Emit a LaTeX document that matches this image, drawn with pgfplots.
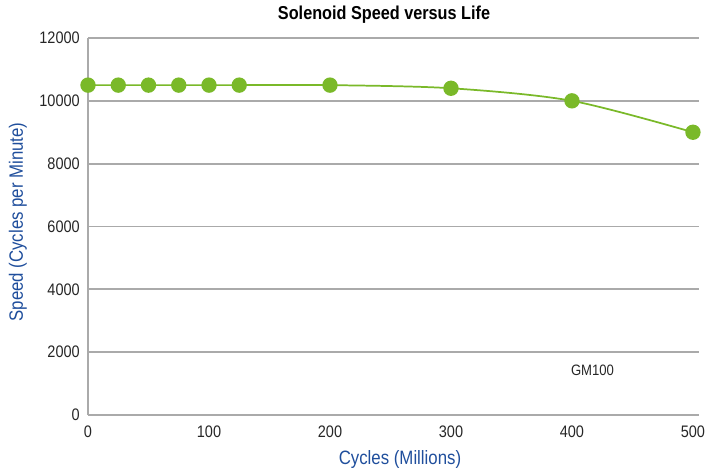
\documentclass[border=0pt]{standalone}
\usepackage{fontspec}
\setmainfont{Liberation Sans}[FakeStretch=0.87]
\usepackage{pgfplots}
\pgfplotsset{compat=1.18}
\definecolor{ptgreen}{RGB}{122,185,41}
\definecolor{labblue}{RGB}{31,78,156}
\definecolor{gridgray}{RGB}{170,170,170}
\begin{document}
\begin{tikzpicture}
\begin{axis}[
  scale only axis,
  width=458.25pt, height=282.75pt,
  xmin=0, xmax=505, ymin=0, ymax=12000,
  xtick={0,100,200,300,400,500},
  ytick={0,2000,4000,6000,8000,10000,12000},
  scaled y ticks=false, scaled x ticks=false,
  axis x line*=bottom, axis y line*=left,
  axis line style={gridgray, line width=1.3pt, -},
  ymajorgrids, grid style={gridgray, line width=1.3pt},
  major tick length=0pt,
  /pgf/number format/assume math mode=true,
  /pgf/number format/set thousands separator={},
  tick label style={font=\fontsize{12.5}{14}\selectfont, text=black!85},
  xticklabel style={inner ysep=0pt, anchor=north, yshift=-8.25pt},
  yticklabel style={inner xsep=0pt, anchor=east, xshift=-6pt},
  title={\bfseries Solenoid Speed versus Life},
  title style={font=\fontsize{14}{16}\selectfont, at={(axis description cs:0.4845,1.029)}, anchor=base},
  xlabel={Cycles (Millions)},
  ylabel={Speed (Cycles per Minute)},
  label style={font=\fontsize{14.5}{16}\selectfont, text=labblue},
  xlabel style={at={(axis description cs:0.5106,-0.117)}, anchor=center},
  ylabel style={at={(axis description cs:-0.1146,0.512)}, anchor=center},
  clip=false,
]
\addplot[ptgreen, line width=1.3pt, smooth, tension=0.5, mark=*, mark size=5.1pt, mark options={fill=ptgreen, draw=ptgreen}]
  coordinates {(0,10500) (25,10500) (50,10500) (75,10500) (100,10500) (125,10500) (200,10500) (300,10400) (400,10000) (500,9000)};
\node[font=\fontsize{11.3}{13}\selectfont, text=black!85] at (axis cs:417,1416) {GM100};
\end{axis}
\pgfresetboundingbox
\path[use as bounding box] ([xshift=-66pt,yshift=-39.75pt]current axis.south west) rectangle ([xshift=4.5pt,yshift=28.5pt]current axis.north east);
\end{tikzpicture}
\end{document}
